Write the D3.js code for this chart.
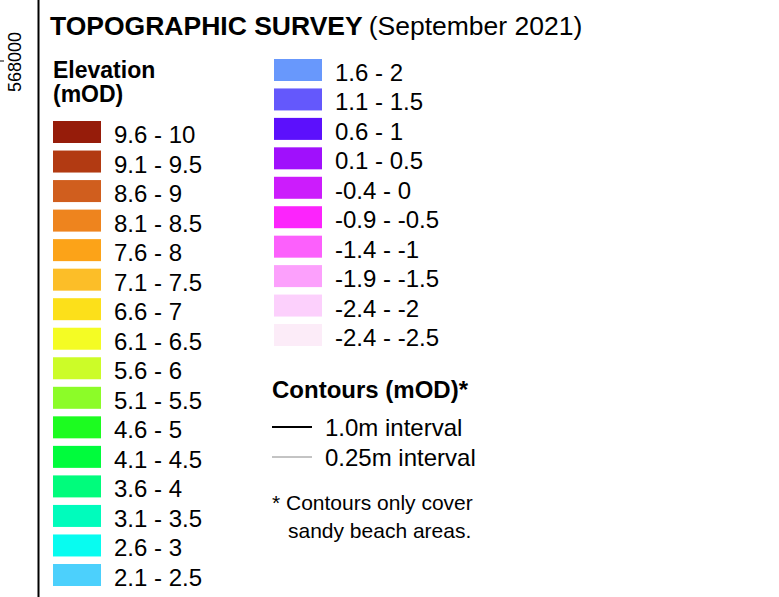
<!DOCTYPE html>
<html>
<head>
<meta charset="utf-8">
<script src="https://cdn.jsdelivr.net/npm/d3@7"></script>
<style>
  body { margin: 0; background: #fff; }
  svg text { font-family: "Liberation Sans", Arial, sans-serif; fill: #000; }
</style>
</head>
<body>
<div id="vis"></div>
<script>
var w = 779,
    h = 597;

// legend classes (elevation, mOD), top to bottom
var elevLabels = ["9.6 - 10", "9.1 - 9.5", "8.6 - 9", "8.1 - 8.5", "7.6 - 8", "7.1 - 7.5",
    "6.6 - 7", "6.1 - 6.5", "5.6 - 6", "5.1 - 5.5", "4.6 - 5", "4.1 - 4.5", "3.6 - 4",
    "3.1 - 3.5", "2.6 - 3", "2.1 - 2.5", "1.6 - 2", "1.1 - 1.5", "0.6 - 1", "0.1 - 0.5",
    "-0.4 - 0", "-0.9 - -0.5", "-1.4 - -1", "-1.9 - -1.5", "-2.4 - -2", "-2.4 - -2.5"];
var elevColors = ["#961c0a", "#b23a12", "#d05e1e", "#ee841e", "#fca318", "#fcbe28",
    "#fce01a", "#f4fc24", "#ccfc28", "#8cfc28", "#1cfc20", "#00fc3c", "#00fc7c",
    "#00fcbc", "#08fcf0", "#4cd0fc", "#6898fc", "#6458fc", "#5c10fc", "#a010fc",
    "#cc1cfc", "#fc24fc", "#fc60fc", "#fca0fc", "#fcd0fc", "#fcecf8"];
var splitAt = 16; // first column holds 16 classes
var contourLabels = ["1.0m interval", "0.25m interval"];
var contourWidths = [2, 1];
var contourColors = ["#000", "#888"];
var axisTick = ["568000"];

var color = d3.scaleOrdinal().domain(elevLabels).range(elevColors);

var svg = d3.select("#vis").append("svg")
    .attr("width", w)
    .attr("height", h);

// frame line and map grid label on the left
svg.append("line")
    .attr("x1", 38.5).attr("x2", 38.5)
    .attr("y1", 0).attr("y2", h)
    .style("stroke", "#000")
    .style("stroke-width", 2);
svg.append("line")
    .attr("x1", 0).attr("x2", 4)
    .attr("y1", 61).attr("y2", 61)
    .style("stroke", "#000");
svg.selectAll("text.grid")
    .data(axisTick)
    .enter().append("text")
    .attr("class", "grid")
    .attr("transform", "translate(21,62) rotate(-90)")
    .attr("text-anchor", "middle")
    .style("font-size", "18px")
    .text(function(d){ return d; });

// title
var title = svg.append("text")
    .attr("x", 50)
    .attr("y", 35)
    .style("font-size", "26.5px");
title.append("tspan").style("font-weight", "bold").text("TOPOGRAPHIC SURVEY");
title.append("tspan").attr("dx", 6).text("(September 2021)");

svg.append("text")
    .attr("x", 53).attr("y", 78)
    .style("font-size", "23px").style("font-weight", "bold")
    .text("Elevation");
svg.append("text")
    .attr("x", 53).attr("y", 102)
    .style("font-size", "23px").style("font-weight", "bold")
    .text("(mOD)");

var yLeft = d3.scaleLinear().domain([0, splitAt - 1]).range([132, 575]);
var yRight = d3.scaleLinear().domain([0, elevLabels.length - splitAt - 1]).range([70, 335]);

var rows = elevLabels.map(function(d, i){
    var left = i < splitAt;
    return {
        label: d,
        x: left ? 53 : 274,
        cy: left ? yLeft(i) : yRight(i - splitAt)
    };
});

var row = svg.selectAll("g.row")
    .data(rows)
    .enter().append("g")
    .attr("class", "row")
    .attr("transform", function(d){ return "translate(" + d.x + "," + d.cy + ")"; });

row.append("rect")
    .attr("x", 0).attr("y", -11)
    .attr("width", 48).attr("height", 22)
    .style("fill", function(d){ return color(d.label); });

row.append("text")
    .attr("x", 61).attr("y", 11)
    .style("font-size", "24px")
    .text(function(d){ return d.label; });

// contours
svg.append("text")
    .attr("x", 272).attr("y", 398)
    .style("font-size", "24px").style("font-weight", "bold")
    .text("Contours (mOD)*");

var yCont = d3.scaleLinear().domain([0, 1]).range([427, 457]);

var cont = svg.selectAll("g.cont")
    .data(contourLabels)
    .enter().append("g")
    .attr("class", "cont")
    .attr("transform", function(d, i){ return "translate(272," + yCont(i) + ")"; });

cont.append("line")
    .attr("x1", 0).attr("x2", 40)
    .attr("y1", 0).attr("y2", 0)
    .style("stroke", function(d, i){ return contourColors[i]; })
    .style("stroke-width", function(d, i){ return contourWidths[i]; });

cont.append("text")
    .attr("x", 53).attr("y", 9)
    .style("font-size", "24px")
    .text(function(d){ return d; });

svg.append("text")
    .attr("x", 272).attr("y", 510)
    .style("font-size", "21px")
    .text("* Contours only cover");
svg.append("text")
    .attr("x", 288).attr("y", 538)
    .style("font-size", "21px")
    .text("sandy beach areas.");
</script>
</body>
</html>
